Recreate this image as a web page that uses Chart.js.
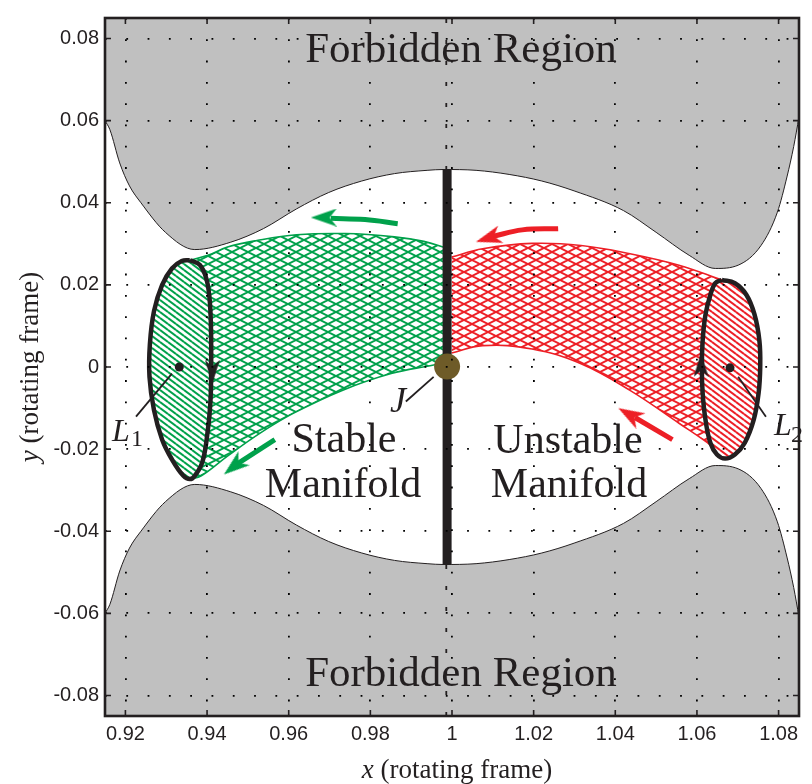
<!DOCTYPE html>
<html><head><meta charset="utf-8">
<script src="https://cdn.jsdelivr.net/npm/chart.js@4/dist/chart.umd.min.js"></script>
<style>html,body{margin:0;padding:0;background:#fff}canvas{display:block}</style>
</head><body>
<canvas id="c" width="812" height="784"></canvas>
<script>
// ---------- data ----------
const xTicks = [0.92, 0.94, 0.96, 0.98, 1.00, 1.02, 1.04, 1.06, 1.08];
const xTickLabels = ['0.92', '0.94', '0.96', '0.98', '1', '1.02', '1.04', '1.06', '1.08'];
const yTicks = [-0.08, -0.06, -0.04, -0.02, 0, 0.02, 0.04, 0.06, 0.08];
const yTickLabels = ['-0.08', '-0.06', '-0.04', '-0.02', '0', '0.02', '0.04', '0.06', '0.08'];

// zero-velocity curve (edge of forbidden region)
const zvcX = [0.9150, 0.9162, 0.9186, 0.9210, 0.9238, 0.9298, 0.9370, 0.9458, 0.9538, 0.9619, 0.9698, 0.9779, 0.9859, 0.9939, 0.9979, 1.0059, 1.0140, 1.0220, 1.0299, 1.0420, 1.0500, 1.0581, 1.0645, 1.0701, 1.0757, 1.0797, 1.0821, 1.0837, 1.0850];
const zvcUpperY = [0.0600, 0.0578, 0.0497, 0.0441, 0.0400, 0.0328, 0.0286, 0.0304, 0.0337, 0.0385, 0.0425, 0.0453, 0.0471, 0.0479, 0.0481, 0.0479, 0.0469, 0.0453, 0.0429, 0.0381, 0.0328, 0.0272, 0.0240, 0.0248, 0.0296, 0.0377, 0.0465, 0.0537, 0.0609];
const zvcLowerY = [-0.0600, -0.0578, -0.0497, -0.0441, -0.0400, -0.0328, -0.0286, -0.0304, -0.0337, -0.0385, -0.0425, -0.0453, -0.0471, -0.0479, -0.0481, -0.0479, -0.0469, -0.0453, -0.0429, -0.0381, -0.0328, -0.0272, -0.0240, -0.0248, -0.0296, -0.0377, -0.0465, -0.0537, -0.0609];

// stable manifold tube (green) edges
const stableUpperX = [0.9358, 0.9402, 0.9450, 0.9522, 0.9619, 0.9739, 0.9859, 0.9931, 0.9987];
const stableUpperY = [0.0260, 0.0272, 0.0292, 0.0308, 0.0322, 0.0325, 0.0317, 0.0306, 0.0289];
const stableLowerX = [0.9358, 0.9386, 0.9450, 0.9530, 0.9611, 0.9731, 0.9851, 0.9955, 0.9987];
const stableLowerY = [-0.0273, -0.0265, -0.0217, -0.0161, -0.0113, -0.0057, -0.0016, 0.0005, 0.0013];

// unstable manifold tube (red) edges
const unstableUpperX = [0.9999, 1.0075, 1.0196, 1.0316, 1.0436, 1.0556, 1.0661];
const unstableUpperY = [0.0268, 0.0288, 0.0301, 0.0296, 0.0276, 0.0248, 0.0212];
const unstableLowerX = [0.9999, 1.0075, 1.0196, 1.0316, 1.0436, 1.0556, 1.0637, 1.0669];
const unstableLowerY = [0.0034, 0.0052, 0.0044, 0.0008, -0.0057, -0.0137, -0.0193, -0.0223];

// Lyapunov orbits (upper / lower halves, left to right)
const l1UpperX = [0.92590, 0.92600, 0.92700, 0.92900, 0.93140, 0.93380, 0.93580, 0.93820, 0.93980, 0.94060, 0.94095, 0.94100];
const l1UpperY = [-0.0024, 0.0056, 0.0136, 0.0200, 0.0240, 0.0258, 0.0260, 0.0249, 0.0216, 0.0168, 0.0096, 0.0000];
const l1LowerX = [0.92590, 0.92700, 0.92900, 0.93140, 0.93420, 0.93580, 0.93700, 0.93880, 0.94000, 0.94080, 0.94100];
const l1LowerY = [-0.0024, -0.0105, -0.0177, -0.0225, -0.0265, -0.0273, -0.0265, -0.0233, -0.0169, -0.0089, 0.0000];
const l2UpperX = [1.06120, 1.06140, 1.06210, 1.06330, 1.06450, 1.06610, 1.06930, 1.07210, 1.07410, 1.07530, 1.07550];
const l2UpperY = [0.0000, 0.0064, 0.0128, 0.0176, 0.0204, 0.0212, 0.0204, 0.0176, 0.0128, 0.0064, 0.0000];
const l2LowerX = [1.06120, 1.06140, 1.06210, 1.06330, 1.06490, 1.06690, 1.06930, 1.07170, 1.07390, 1.07510, 1.07550];
const l2LowerY = [0.0000, -0.0064, -0.0129, -0.0185, -0.0213, -0.0223, -0.0213, -0.0185, -0.0129, -0.0064, 0.0000];

// special points
const pointL1 = [0.9332, 0.0000];
const pointL2 = [1.0681, -0.0002];
const pointJ = [0.9988, 0.0001];
const planetBarX = [0.9988, 0.9988];
const planetBarY = [-0.0482, 0.0482];
const dashLineX = [0.9986, 0.9986];
const dashLineY = [-0.0850, 0.0850];

// label leader lines
const leaderL1X = [0.9314, 0.9226], leaderL1Y = [-0.0016, -0.0121];
const leaderL2X = [1.0701, 1.0769], leaderL2Y = [-0.0024, -0.0121];
const leaderJX = [0.9887, 0.9955], leaderJY = [-0.0084, -0.0024];

// flow arrows: shafts and heads
const arrowStableTopX = [0.9867, 0.9787, 0.9703], arrowStableTopY = [0.0349, 0.0359, 0.0362];
const arrowStableBotX = [0.9566, 0.9474], arrowStableBotY = [-0.0177, -0.0236];
const arrowUnstableTopX = [1.0260, 1.0172, 1.0100], arrowUnstableTopY = [0.0337, 0.0334, 0.0318];
const arrowUnstableBotX = [1.0540, 1.0448], arrowUnstableBotY = [-0.0177, -0.0123];
const headStableTop = [0.9686, 0.0364];
const headStableBot = [0.9466, -0.0242];
const headUnstableTop = [1.0089, 0.0314];
const headUnstableBot = [1.0435, -0.0116];
const headOrbitL1 = [0.9413, -0.0012];
const headOrbitL2 = [1.0610, 0.0005];

// ---------- helpers ----------
const pts = (xs, ys) => xs.map((x, i) => ({x: x, y: ys[i]}));
function loopFrom(ux, uy, lx, ly, k) {
  const up = pts(ux, uy);
  const lo = pts(lx, ly).reverse();
  return [...up.slice(k), ...lo.slice(1), ...up.slice(1, k + 1)];
}
const canvas = document.getElementById('c');
const mainCtx = canvas.getContext('2d');

const GREEN = '#00a14b', RED = '#ed1f26', INK = '#231f20', GRAY = '#c0c0c0';

function crossPattern(color, w, h, lw) {
  const c = document.createElement('canvas'); c.width = w; c.height = h;
  const g = c.getContext('2d');
  g.strokeStyle = color; g.lineWidth = lw;
  for (const dx of [-w, 0, w]) for (const dy of [-h, 0, h]) {
    g.beginPath();
    g.moveTo(dx, dy); g.lineTo(dx + w, dy + h);
    g.moveTo(dx, dy + h); g.lineTo(dx + w, dy);
    g.stroke();
  }
  return mainCtx.createPattern(c, 'repeat');
}
function stripePattern(color, w, h, lw) {
  const c = document.createElement('canvas'); c.width = w; c.height = h;
  const g = c.getContext('2d');
  g.fillStyle = '#fff'; g.fillRect(0, 0, w, h);
  g.strokeStyle = color; g.lineWidth = lw;
  for (const dx of [-w, 0, w]) for (const dy of [-h, 0, h]) {
    g.beginPath(); g.moveTo(dx, dy); g.lineTo(dx + w, dy + h); g.stroke();
  }
  return mainCtx.createPattern(c, 'repeat');
}
function arrowHead(color, w, h) {
  const c = document.createElement('canvas'); c.width = w; c.height = h;
  const g = c.getContext('2d');
  g.fillStyle = color;
  g.beginPath();
  g.moveTo(w / 2, 0); g.lineTo(w, h); g.lineTo(w / 2, h * 0.72); g.lineTo(0, h);
  g.closePath(); g.fill();
  return c;
}
const headGreen = arrowHead(GREEN, 18, 26);
const headRed = arrowHead(RED, 18, 26);
const headBlack = arrowHead(INK, 15, 24);

const lineDS = (data, extra) => Object.assign({
  data: data, showLine: true, pointRadius: 0, borderColor: INK, borderWidth: 1,
  fill: false, tension: 0.4, backgroundColor: 'rgba(0,0,0,0)'
}, extra);
const headDS = (p, img, rot, order) => ({
  data: [{x: p[0], y: p[1]}], showLine: false, pointStyle: img, pointRadius: 10,
  rotation: rot, order: order, backgroundColor: INK, borderColor: INK
});

const datasets = [
  /*0*/ lineDS(pts(zvcX, zvcUpperY), {fill: 'end', backgroundColor: GRAY, cubicInterpolationMode: 'monotone', order: 100}),
  /*1*/ lineDS(pts(zvcX, zvcLowerY), {fill: 'start', backgroundColor: GRAY, cubicInterpolationMode: 'monotone', order: 99}),
  /*2*/ lineDS(pts(dashLineX, dashLineY), {borderWidth: 1.8, borderDash: [4, 17], tension: 0, order: 98}),
  /*3*/ lineDS(pts(stableUpperX, stableUpperY), {borderColor: GREEN, borderWidth: 1.6, fill: {target: 4}, backgroundColor: crossPattern(GREEN, 16, 8, 2.0), order: 91}),
  /*4*/ lineDS(pts(stableLowerX, stableLowerY), {borderColor: GREEN, borderWidth: 1.6, order: 90}),
  /*5*/ lineDS(pts(unstableUpperX, unstableUpperY), {borderColor: RED, borderWidth: 1.6, fill: {target: 6}, backgroundColor: crossPattern(RED, 16, 8, 2.0), order: 89}),
  /*6*/ lineDS(pts(unstableLowerX, unstableLowerY), {borderColor: RED, borderWidth: 1.6, order: 88}),
  /*7*/ lineDS(pts(l1UpperX, l1UpperY), {borderWidth: 0, fill: {target: 8}, backgroundColor: stripePattern(GREEN, 8, 6, 2.0), order: 81}),
  /*8*/ lineDS(pts(l1LowerX, l1LowerY), {borderWidth: 0, order: 80}),
  /*9*/ lineDS(pts(l2UpperX, l2UpperY), {borderWidth: 0, fill: {target: 10}, backgroundColor: stripePattern(RED, 8, 6, 2.0), order: 79}),
  /*10*/ lineDS(pts(l2LowerX, l2LowerY), {borderWidth: 0, order: 78}),
  /*11*/ lineDS(loopFrom(l1UpperX, l1UpperY, l1LowerX, l1LowerY, 6), {borderWidth: 4.5, order: 70}),
  /*12*/ lineDS(loopFrom(l2UpperX, l2UpperY, l2LowerX, l2LowerY, 5), {borderWidth: 4.5, order: 69}),
  /*13*/ lineDS(pts(planetBarX, planetBarY), {borderWidth: 9, tension: 0, order: 60}),
  /*14*/ {data: [{x: pointJ[0], y: pointJ[1]}], pointRadius: 13, backgroundColor: '#6e5b28', borderColor: '#6e5b28', borderWidth: 0, order: 50},
  /*15*/ {data: [{x: pointL1[0], y: pointL1[1]}, {x: pointL2[0], y: pointL2[1]}], pointRadius: 4.5, backgroundColor: INK, borderColor: INK, borderWidth: 0, order: 49},
  /*16*/ lineDS(pts(leaderL1X, leaderL1Y), {borderWidth: 1.8, tension: 0, order: 48}),
  /*17*/ lineDS(pts(leaderL2X, leaderL2Y), {borderWidth: 1.8, tension: 0, order: 47}),
  /*18*/ lineDS(pts(leaderJX, leaderJY), {borderWidth: 1.8, tension: 0, order: 46}),
  /*19*/ lineDS(pts(arrowStableTopX, arrowStableTopY), {borderColor: GREEN, borderWidth: 5, order: 40}),
  /*20*/ lineDS(pts(arrowStableBotX, arrowStableBotY), {borderColor: GREEN, borderWidth: 5, tension: 0, order: 40}),
  /*21*/ lineDS(pts(arrowUnstableTopX, arrowUnstableTopY), {borderColor: RED, borderWidth: 5, order: 40}),
  /*22*/ lineDS(pts(arrowUnstableBotX, arrowUnstableBotY), {borderColor: RED, borderWidth: 5, tension: 0, order: 40}),
  /*23*/ headDS(headStableTop, headGreen, 270, 39),
  /*24*/ headDS(headStableBot, headGreen, 231, 39),
  /*25*/ headDS(headUnstableTop, headRed, 253, 39),
  /*26*/ headDS(headUnstableBot, headRed, 300, 39),
  /*27*/ headDS(headOrbitL1, headBlack, 180, 38),
  /*28*/ headDS(headOrbitL2, headBlack, 0, 38)
];

const SERIF = '"Liberation Serif", "Times New Roman", serif';
const SANS = '"Liberation Sans", Arial, sans-serif';

const decor = {
  id: 'decor',
  afterDraw(chart) {
    const ctx = chart.ctx, a = chart.chartArea;
    const sx = chart.scales.x, sy = chart.scales.y;
    ctx.save();
    // frame
    ctx.strokeStyle = INK; ctx.lineWidth = 2.6;
    ctx.strokeRect(a.left, a.top, a.right - a.left, a.bottom - a.top);
    // inward tick marks
    ctx.lineWidth = 1.6;
    ctx.beginPath();
    xTicks.forEach(v => {
      const p = sx.getPixelForValue(v);
      ctx.moveTo(p, a.bottom); ctx.lineTo(p, a.bottom - 6);
      ctx.moveTo(p, a.top); ctx.lineTo(p, a.top + 6);
    });
    yTicks.forEach(v => {
      const p = sy.getPixelForValue(v);
      ctx.moveTo(a.left, p); ctx.lineTo(a.left + 6, p);
      ctx.moveTo(a.right, p); ctx.lineTo(a.right - 6, p);
    });
    ctx.stroke();

    ctx.fillStyle = INK;
    ctx.textBaseline = 'alphabetic';
    // in-plot labels
    ctx.textAlign = 'center';
    ctx.font = '43px ' + SERIF;
    ctx.fillText('Forbidden Region', 461, 62);
    ctx.fillText('Forbidden Region', 461, 686);
    ctx.font = '42px ' + SERIF;
    ctx.fillText('Stable', 344, 452);
    ctx.fillText('Manifold', 343, 497);
    ctx.fillText('Unstable', 568, 453);
    ctx.fillText('Manifold', 569, 497);
    ctx.font = 'italic 36px ' + SERIF;
    ctx.fillText('J', 398, 412);
    // L1 / L2
    ctx.textAlign = 'left';
    ctx.font = 'italic 32px ' + SERIF;
    ctx.fillText('L', 112, 441);
    ctx.fillText('L', 774, 435);
    ctx.font = '24px ' + SERIF;
    ctx.fillText('1', 131, 446);
    ctx.fillText('2', 791, 442);

    // axis titles with italic variable
    const drawTitle = (x, y, rot, v) => {
      ctx.save();
      ctx.translate(x, y); ctx.rotate(rot);
      ctx.font = 'italic 27px ' + SERIF;
      const w1 = ctx.measureText(v).width;
      ctx.font = '27px ' + SERIF;
      const rest = ' (rotating frame)';
      const w2 = ctx.measureText(rest).width;
      const start = -(w1 + w2) / 2;
      ctx.textAlign = 'left';
      ctx.font = 'italic 27px ' + SERIF;
      ctx.fillText(v, start, 0);
      ctx.font = '27px ' + SERIF;
      ctx.fillText(rest, start + w1, 0);
      ctx.restore();
    };
    drawTitle(457, 778, 0, 'x');
    drawTitle(38, 367, -Math.PI / 2, 'y');
    ctx.restore();
  }
};

new Chart(canvas, {
  type: 'scatter',
  data: {datasets: datasets},
  options: {
    responsive: false,
    devicePixelRatio: 1,
    animation: false,
    events: [],
    layout: {padding: {top: 10, right: 1, left: 0, bottom: 0}},
    plugins: {legend: {display: false}, tooltip: {enabled: false}},
    scales: {
      x: {
        type: 'linear', min: 0.915, max: 1.085,
        afterBuildTicks: s => { s.ticks = xTicks.map(v => ({value: v})); },
        afterFit: s => { s.height = 68; },
        grid: {color: '#000', lineWidth: 1.8, drawTicks: false, z: 1},
        border: {display: false, dash: [1.8, 19.5]},
        ticks: {autoSkip: false, maxRotation: 0, padding: 6, color: INK,
          font: {family: SANS, size: 20},
          callback: (v, i) => xTickLabels[i]}
      },
      y: {
        type: 'linear', min: -0.085, max: 0.085,
        afterBuildTicks: s => { s.ticks = yTicks.map(v => ({value: v})); },
        afterFit: s => { s.width = 105; },
        grid: {color: '#000', lineWidth: 1.8, drawTicks: false, z: 1},
        border: {display: false, dash: [1.8, 19.5]},
        ticks: {autoSkip: false, padding: 6, color: INK,
          font: {family: SANS, size: 20},
          callback: (v, i) => yTickLabels[i]}
      }
    }
  },
  plugins: [decor]
});
</script>
</body></html>
